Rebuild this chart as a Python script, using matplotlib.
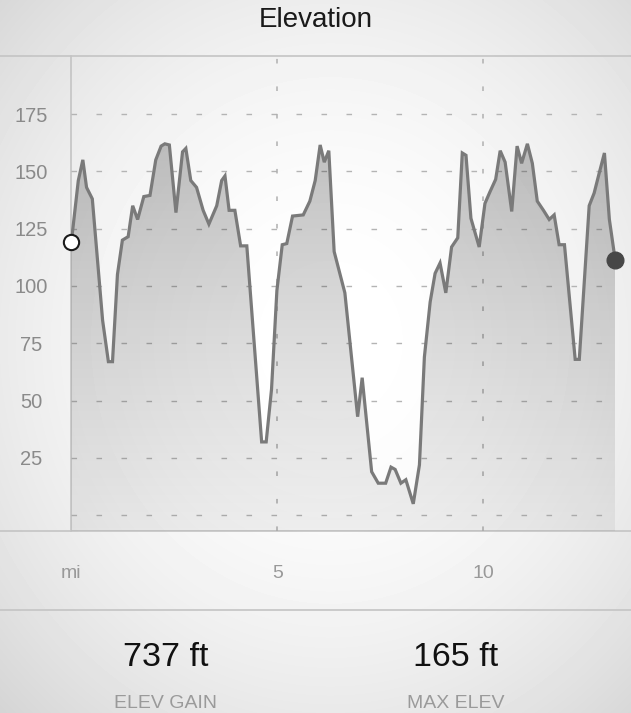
import numpy as np
import matplotlib.pyplot as plt
from matplotlib.patches import Polygon

# elevation profile (miles, feet)
miles = [0.00, 0.17, 0.28, 0.37, 0.51, 0.76, 0.90, 1.00, 1.12, 1.24, 1.38, 1.49,
         1.61, 1.76, 1.91, 2.05, 2.18, 2.27, 2.38, 2.54, 2.70, 2.78, 2.90, 3.04,
         3.20, 3.34, 3.53, 3.65, 3.73, 3.83, 3.97, 4.11, 4.26, 4.62, 4.73, 4.86,
         4.99, 5.12, 5.23, 5.37, 5.63, 5.79, 5.92, 6.04, 6.14, 6.25, 6.38, 6.64,
         6.95, 7.06, 7.29, 7.45, 7.63, 7.76, 7.86, 8.00, 8.12, 8.30, 8.45, 8.57,
         8.71, 8.83, 8.95, 9.09, 9.23, 9.38, 9.49, 9.58, 9.70, 9.90, 10.04, 10.16,
         10.30, 10.41, 10.53, 10.69, 10.82, 10.93, 11.07, 11.19, 11.31, 11.46,
         11.60, 11.72, 11.84, 11.97, 12.23, 12.33, 12.57, 12.69, 12.81, 12.94,
         13.06, 13.20]
elev = [119, 146, 155, 143, 138, 85, 67, 67, 105, 120, 121.5, 135,
        129, 139, 139.5, 155, 161, 162, 161.5, 132, 158.5, 160, 146, 143,
        133, 127, 135, 146, 148, 133, 133, 117.5, 117.5, 32, 32, 55,
        98, 118, 118.5, 130.5, 131, 137, 146, 161.5, 154, 159, 115, 97,
        43, 60, 19, 14, 14, 21, 20, 14, 15.5, 5, 22, 69,
        93, 105.5, 110, 97, 117, 121, 158, 157, 129.5, 117, 136, 141,
        146.5, 159, 154, 132.5, 161, 153.5, 162, 153.5, 137, 133,
        129, 131, 118, 118, 68, 68, 135, 140.5, 149, 158,
        129, 111.5]

y_ticks = [25, 50, 75, 100, 125, 150, 175]
grid_y = [0, 25, 50, 75, 100, 125, 150, 175]
x_ticks = [0, 5, 10]
x_labels = ['mi', '5', '10']
stat_values = ['737 ft', '165 ft']
stat_names = ['ELEV GAIN', 'MAX ELEV']

plt.rcParams['font.family'] = ['Liberation Sans', 'DejaVu Sans']

W, H = 631, 713
fig = plt.figure(figsize=(W / 100, H / 100), dpi=100)

# soft radial grey background over the whole card
bg = fig.add_axes([0, 0, 1, 1])
yy, xx = np.mgrid[0:H, 0:W]
r2 = ((xx - 330) / 400.0) ** 2 + ((yy - 340) / 440.0) ** 2
shade = np.clip(1 - 0.12 * r2, 0, 1)
bg.imshow(shade, cmap='gray', vmin=0, vmax=1, extent=[0, W, H, 0], aspect='auto')
bg.set_xlim(0, W)
bg.set_ylim(H, 0)
bg.axis('off')

# separators
for yl in [56, 531, 610]:
    bg.plot([0, W], [yl, yl], color='#c4c4c4', lw=1.2)
bg.plot([71.3, 71.3], [56, 531], color='#c4c4c4', lw=1.2)

bg.text(W / 2, 20, 'Elevation', ha='center', va='center', fontsize=20, color='#1a1a1a')
for cx, val, name in zip([166, 456], stat_values, stat_names):
    bg.text(cx, 658, val, ha='center', va='center', fontsize=24.5, color='#111111')
    bg.text(cx, 703, name, ha='center', va='center', fontsize=14, color='#9a9a9a')

# chart
x0_px, x1_px, top_px, bot_px = 71.3, 616, 56, 531
ax = fig.add_axes([x0_px / W, 1 - bot_px / H, (x1_px - x0_px) / W, (bot_px - top_px) / H])
ax.patch.set_alpha(0)
xmax = (x1_px - x0_px) / 41.2
ymin, ymax = -6.85, 200.3
ax.set_xlim(0, xmax)
ax.set_ylim(ymin, ymax)
for s in ax.spines.values():
    s.set_visible(False)

for g in grid_y:
    ax.plot([0, miles[-1]], [g, g], color='#b4b4b4', lw=1, dashes=(4, 14), zorder=1)
for g in x_ticks[1:]:
    ax.axvline(g, color='#b0b0b0', lw=1.1, dashes=(3, 15), zorder=1)

# gradient fill under the profile
poly_xy = np.column_stack([[miles[0]] + miles + [miles[-1]],
                           [ymin] + elev + [ymin]])
poly = Polygon(poly_xy, closed=True, facecolor='none', edgecolor='none')
ax.add_patch(poly)
grad = np.zeros((256, 2, 4))
alpha = np.linspace(0.05, 0.24, 256)[:, None]
grad[..., 3] = alpha
im = ax.imshow(grad, extent=[0, miles[-1], ymin, 170], origin='lower',
               aspect='auto', zorder=2)
im.set_clip_path(poly)

ax.plot(miles, elev, color='#7a7a7a', lw=2.3, solid_joinstyle='miter', zorder=3)
ax.plot(miles[0], elev[0], 'o', ms=11, mfc='white', mec='#1a1a1a', mew=1.5,
        zorder=4, clip_on=False)
ax.plot(miles[-1], elev[-1], 'o', ms=12, mfc='#474747', mec='#474747',
        zorder=4, clip_on=False)

ax.set_yticks(y_ticks)
ax.set_yticklabels([str(t) for t in y_ticks])
ax.set_xticks(x_ticks)
ax.set_xticklabels(x_labels)
ax.tick_params(axis='y', length=0, pad=28.7, labelsize=14.5, labelcolor='#8a8a8a')
ax.tick_params(axis='x', length=0, pad=34, labelsize=14, labelcolor='#999999')
for lab in ax.get_yticklabels():
    lab.set_horizontalalignment('center')
for lab in ax.get_xticklabels():
    lab.set_verticalalignment('baseline')

fig.savefig('out.png', dpi=100)
